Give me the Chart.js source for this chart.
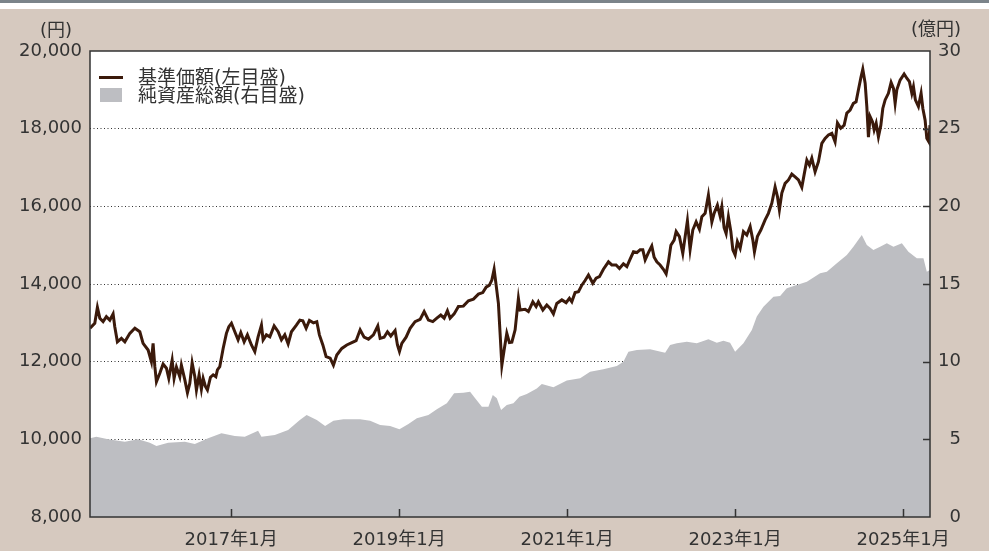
<!DOCTYPE html>
<html lang="ja">
<head>
<meta charset="utf-8">
<title>基準価額・純資産総額の推移</title>
<script src="https://cdn.jsdelivr.net/npm/chart.js@4.4.1/dist/chart.umd.min.js"></script>
<style>
  body { margin: 0; background: #d6c9bf; }
  #wrap { position: relative; width: 989px; height: 551px; overflow: hidden; }
  #chart { position: absolute; left: 0; top: 0; }
  .txt { position: absolute; font-family: 'DejaVu Sans', 'Noto Sans CJK JP', sans-serif; font-size: 18px; color: #333; line-height: 20px; white-space: nowrap; }
  .lg { font-size: 19px; }
  .sym { position: absolute; }
</style>
</head>
<body>
<div id="wrap">
  <canvas id="chart" width="989" height="551"></canvas>
  <div class="txt" style="right:917px; top:20px;">(円)</div>
  <div class="txt" style="right:28px; top:19px;">(億円)</div>
  <div class="sym" style="left:99px; top:76px; width:24px; height:3px; background:#3b1a0b;"></div>
  <div class="txt lg" style="left:138px; top:67px;">基準価額(左目盛)</div>
  <div class="sym" style="left:100px; top:88px; width:22px; height:14px; background:#bdbec2;"></div>
  <div class="txt lg" style="left:138px; top:85px;">純資産総額(右目盛)</div>
</div>
<script>
// 基準価額 (円) - x is decimal year
const navX = [2015.32, 2015.377, 2015.408, 2015.437, 2015.476, 2015.515, 2015.556, 2015.595, 2015.615, 2015.646,
  2015.694, 2015.735, 2015.794, 2015.854, 2015.913, 2015.952, 2016.012, 2016.051, 2016.071, 2016.092,
  2016.111, 2016.151, 2016.190, 2016.230, 2016.258, 2016.298, 2016.321, 2016.349, 2016.389, 2016.408,
  2016.449, 2016.480, 2016.508, 2016.536, 2016.568, 2016.587, 2016.619, 2016.646, 2016.667, 2016.694,
  2016.718, 2016.754, 2016.786, 2016.818, 2016.837, 2016.865, 2016.905, 2016.944, 2016.973, 2017.004,
  2017.044, 2017.083, 2017.115, 2017.155, 2017.194, 2017.242, 2017.282, 2017.321, 2017.361, 2017.381,
  2017.420, 2017.461, 2017.512, 2017.560, 2017.599, 2017.639, 2017.679, 2017.718, 2017.777, 2017.818,
  2017.854, 2017.893, 2017.932, 2017.980, 2018.020, 2018.051, 2018.092, 2018.131, 2018.179, 2018.218,
  2018.258, 2018.318, 2018.377, 2018.437, 2018.488, 2018.536, 2018.583, 2018.635, 2018.694, 2018.746,
  2018.774, 2018.821, 2018.861, 2018.901, 2018.952, 2018.980, 2019.004, 2019.032, 2019.083, 2019.131,
  2019.190, 2019.250, 2019.298, 2019.349, 2019.401, 2019.449, 2019.496, 2019.536, 2019.575, 2019.607,
  2019.655, 2019.706, 2019.765, 2019.825, 2019.885, 2019.944, 2019.996, 2020.036, 2020.075, 2020.104,
  2020.131, 2020.155, 2020.182, 2020.202, 2020.223, 2020.250, 2020.282, 2020.313, 2020.342, 2020.381,
  2020.420, 2020.440, 2020.500, 2020.539, 2020.592, 2020.631, 2020.658, 2020.711, 2020.758, 2020.798,
  2020.837, 2020.877, 2020.937, 2020.988, 2021.027, 2021.056, 2021.095, 2021.135, 2021.175, 2021.214,
  2021.254, 2021.306, 2021.345, 2021.385, 2021.432, 2021.492, 2021.532, 2021.583, 2021.623, 2021.670,
  2021.711, 2021.750, 2021.790, 2021.830, 2021.869, 2021.901, 2021.929, 2021.968, 2022.008, 2022.036,
  2022.068, 2022.107, 2022.146, 2022.179, 2022.206, 2022.235, 2022.274, 2022.298, 2022.337, 2022.377,
  2022.405, 2022.432, 2022.464, 2022.496, 2022.536, 2022.575, 2022.604, 2022.643, 2022.682, 2022.723,
  2022.750, 2022.789, 2022.821, 2022.842, 2022.869, 2022.893, 2022.920, 2022.949, 2022.973, 2023.000,
  2023.027, 2023.060, 2023.099, 2023.139, 2023.179, 2023.211, 2023.230, 2023.265, 2023.306, 2023.357,
  2023.396, 2023.437, 2023.476, 2023.504, 2023.527, 2023.556, 2023.595, 2023.635, 2023.675, 2023.714,
  2023.754, 2023.794, 2023.821, 2023.854, 2023.885, 2023.913, 2023.952, 2023.992, 2024.032, 2024.071,
  2024.111, 2024.151, 2024.190, 2024.218, 2024.258, 2024.298, 2024.330, 2024.369, 2024.408, 2024.440,
  2024.468, 2024.496, 2024.520, 2024.548, 2024.568, 2024.587, 2024.607, 2024.635, 2024.655, 2024.679,
  2024.706, 2024.735, 2024.758, 2024.786, 2024.825, 2024.857, 2024.885, 2024.905, 2024.925, 2024.964,
  2025.012, 2025.044, 2025.075, 2025.104, 2025.123, 2025.146, 2025.182, 2025.214, 2025.235, 2025.262,
  2025.282, 2025.306, 2025.32];
const navY = [12860, 12990, 13400, 13120, 13030, 13160, 13070, 13230, 12900, 12510,
  12600, 12510, 12730, 12860, 12770, 12470, 12300, 12000, 12470, 11870,
  11480, 11700, 11940, 11830, 11570, 12040, 11570, 11860, 11610, 11910,
  11530, 11200, 11440, 11970, 11610, 11270, 11660, 11290, 11570, 11360,
  11270, 11600, 11660, 11610, 11790, 11870, 12340, 12730, 12900, 12990,
  12770, 12560, 12750, 12510, 12690, 12430, 12260, 12640, 12940, 12560,
  12690, 12640, 12920, 12770, 12560, 12690, 12460, 12770, 12940, 13070,
  13050, 12860, 13060, 13000, 13030, 12690, 12430, 12130, 12090, 11910,
  12170, 12340, 12430, 12490, 12540, 12820, 12630, 12580, 12690, 12920,
  12600, 12630, 12770, 12660, 12800, 12430, 12260, 12470, 12630, 12860,
  13030, 13090, 13290, 13070, 13030, 13120, 13200, 13120, 13310, 13120,
  13230, 13420, 13430, 13570, 13610, 13740, 13780, 13920, 13970, 14100,
  14380, 13970, 13500, 12730, 11910, 12300, 12730, 12490, 12500, 12820,
  13630, 13330, 13350, 13290, 13540, 13420, 13540, 13330, 13460, 13370,
  13230, 13500, 13590, 13520, 13630, 13540, 13780, 13800, 13970, 14090,
  14230, 14020, 14150, 14190, 14380, 14570, 14490, 14490, 14400, 14520,
  14450, 14640, 14830, 14810, 14880, 14880, 14620, 14810, 14980, 14690,
  14570, 14490, 14380, 14260, 14570, 15000, 15130, 15350, 15220, 14790,
  15220, 15630, 14890, 15390, 15600, 15410, 15730, 15820, 16290, 15600,
  15820, 16030, 15750, 15990, 15450, 15300, 15730, 15350, 14880, 14750,
  15090, 14920, 15350, 15260, 15480, 15130, 14830, 15220, 15390, 15650,
  15820, 16080, 16500, 16250, 15910, 16340, 16590, 16680, 16830, 16760,
  16680, 16490, 16810, 17190, 17060, 17240, 16890, 17150, 17620, 17750,
  17840, 17880, 17660, 18150, 18010, 18090, 18400, 18480, 18650, 18690,
  19000, 19300, 19530, 19170, 18570, 17780, 18310, 18180, 17970, 18140,
  17790, 18090, 18520, 18740, 18910, 19190, 19040, 18650, 19000, 19250,
  19410, 19300, 19210, 18910, 19080, 18740, 18570, 18910, 18520, 18220,
  17750, 17660, 18090];

// 純資産総額 (億円)
const assetX = [2015.32, 2015.396, 2015.536, 2015.735, 2015.893, 2016.032, 2016.111, 2016.250, 2016.449, 2016.568,
  2016.726, 2016.885, 2017.044, 2017.163, 2017.321, 2017.361, 2017.520, 2017.679, 2017.818, 2017.899,
  2018.020, 2018.119, 2018.218, 2018.337, 2018.536, 2018.655, 2018.774, 2018.893, 2019.004, 2019.111,
  2019.211, 2019.349, 2019.449, 2019.568, 2019.655, 2019.765, 2019.845, 2019.905, 2019.985, 2020.063,
  2020.115, 2020.163, 2020.214, 2020.282, 2020.361, 2020.432, 2020.520, 2020.639, 2020.699, 2020.837,
  2020.996, 2021.155, 2021.274, 2021.432, 2021.592, 2021.670, 2021.730, 2021.830, 2021.988, 2022.167,
  2022.226, 2022.306, 2022.425, 2022.544, 2022.682, 2022.782, 2022.861, 2022.940, 2023.000, 2023.099,
  2023.199, 2023.258, 2023.337, 2023.456, 2023.536, 2023.615, 2023.734, 2023.854, 2024.012, 2024.092,
  2024.211, 2024.330, 2024.408, 2024.508, 2024.568, 2024.646, 2024.726, 2024.806, 2024.885, 2024.985,
  2025.063, 2025.163, 2025.242, 2025.282, 2025.32];
const assetY = [5.07, 5.17, 5.00, 4.85, 5.00, 4.78, 4.57, 4.78, 4.85, 4.70,
  5.07, 5.39, 5.21, 5.17, 5.56, 5.17, 5.28, 5.60, 6.24, 6.57,
  6.24, 5.86, 6.20, 6.29, 6.29, 6.20, 5.92, 5.86, 5.65, 5.99,
  6.35, 6.57, 6.93, 7.32, 7.96, 8.00, 8.07, 7.64, 7.10, 7.10,
  7.85, 7.64, 6.89, 7.21, 7.32, 7.74, 7.92, 8.28, 8.56, 8.35,
  8.78, 8.93, 9.35, 9.51, 9.72, 10.00, 10.64, 10.75, 10.80, 10.58,
  11.07, 11.18, 11.29, 11.18, 11.44, 11.22, 11.35, 11.22, 10.64, 11.18,
  12.04, 12.90, 13.54, 14.18, 14.23, 14.72, 14.94, 15.15, 15.69, 15.79,
  16.33, 16.87, 17.40, 18.16, 17.51, 17.19, 17.40, 17.62, 17.40, 17.62,
  17.08, 16.66, 16.66, 15.79, 15.90];

const yearTicks = [2017, 2019, 2021, 2023, 2025];
const leftTicks = [8000, 10000, 12000, 14000, 16000, 18000, 20000];
const rightTicks = [0, 5, 10, 15, 20, 25, 30];

const FONT = "'DejaVu Sans', 'Noto Sans CJK JP', sans-serif";
const INK = '#333333';

// background, plot frame and inward tick marks
const framePlugin = {
  id: 'frame',
  beforeDraw(chart) {
    const {ctx, chartArea: a, width, height} = chart;
    ctx.save();
    ctx.fillStyle = '#d6c9bf';
    ctx.fillRect(0, 0, width, height);
    ctx.fillStyle = '#ffffff';
    ctx.fillRect(0, 0, width, 9);
    ctx.fillStyle = '#7b848a';
    ctx.fillRect(0, 0, width, 3);
    ctx.fillStyle = '#ffffff';
    ctx.fillRect(a.left, a.top, a.right - a.left, a.bottom - a.top);
    ctx.restore();
  },
  afterDraw(chart) {
    const {ctx, chartArea: a, scales} = chart;
    ctx.save();
    ctx.strokeStyle = INK;
    ctx.lineWidth = 1.5;
    ctx.strokeRect(a.left, a.top, a.right - a.left, a.bottom - a.top);
    ctx.beginPath();
    scales.x.ticks.forEach(t => {
      const px = Math.round(scales.x.getPixelForValue(t.value)) + 0.5;
      ctx.moveTo(px, a.bottom);
      ctx.lineTo(px, a.bottom - 8);
    });
    scales.y2.ticks.forEach(t => {
      if (t.value === 0 || t.value === 30) return;
      const py = Math.round(scales.y2.getPixelForValue(t.value)) + 0.5;
      ctx.moveTo(a.right, py);
      ctx.lineTo(a.right - 7, py);
    });
    ctx.stroke();
    ctx.restore();
  }
};

new Chart(document.getElementById('chart'), {
  type: 'line',
  data: {
    datasets: [
      {
        label: '基準価額(左目盛)',
        data: navX.map((x, i) => ({x: x, y: navY[i]})),
        yAxisID: 'y',
        borderColor: '#3b1a0b',
        borderWidth: 3,
        pointRadius: 0,
        tension: 0,
        order: 0
      },
      {
        label: '純資産総額(右目盛)',
        data: assetX.map((x, i) => ({x: x, y: assetY[i]})),
        yAxisID: 'y2',
        borderWidth: 0,
        borderColor: 'rgba(0,0,0,0)',
        backgroundColor: '#bdbec2',
        fill: 'origin',
        pointRadius: 0,
        tension: 0,
        order: 1
      }
    ]
  },
  options: {
    responsive: false,
    animation: false,
    layout: { padding: { top: 51, left: 0, right: 28, bottom: 0 } },
    plugins: {
      legend: { display: false },
      tooltip: { enabled: false }
    },
    scales: {
      x: {
        type: 'linear',
        min: 2015.32,
        max: 2025.32,
        afterBuildTicks: s => { s.ticks = yearTicks.map(v => ({value: v})); },
        afterFit: s => { s.height = 34; },
        grid: { display: false, drawTicks: false },
        border: { display: false },
        ticks: {
          padding: 13,
          color: INK,
          font: { family: FONT, size: 18 },
          maxRotation: 0,
          callback: v => v + '年1月'
        }
      },
      y: {
        position: 'left',
        min: 8000,
        max: 20000,
        z: 1,
        afterBuildTicks: s => { s.ticks = leftTicks.map(v => ({value: v})); },
        afterFit: s => { s.width = 90; },
        grid: {
          drawTicks: false,
          color: c => (c.tick && (c.tick.value === 8000 || c.tick.value === 20000)) ? 'rgba(0,0,0,0)' : '#333',
          lineWidth: 1
        },
        border: { display: false, dash: [1, 2.5] },
        ticks: {
          padding: 8,
          color: INK,
          font: { family: FONT, size: 18 },
          callback: v => v.toLocaleString('en-US')
        }
      },
      y2: {
        position: 'right',
        min: 0,
        max: 30,
        afterBuildTicks: s => { s.ticks = rightTicks.map(v => ({value: v})); },
        afterFit: s => { s.width = 31; },
        grid: { display: false, drawOnChartArea: false, drawTicks: false },
        border: { display: false },
        ticks: {
          padding: 8,
          crossAlign: 'far',
          color: INK,
          font: { family: FONT, size: 18 }
        }
      }
    }
  },
  plugins: [framePlugin]
});
</script>
</body>
</html>
